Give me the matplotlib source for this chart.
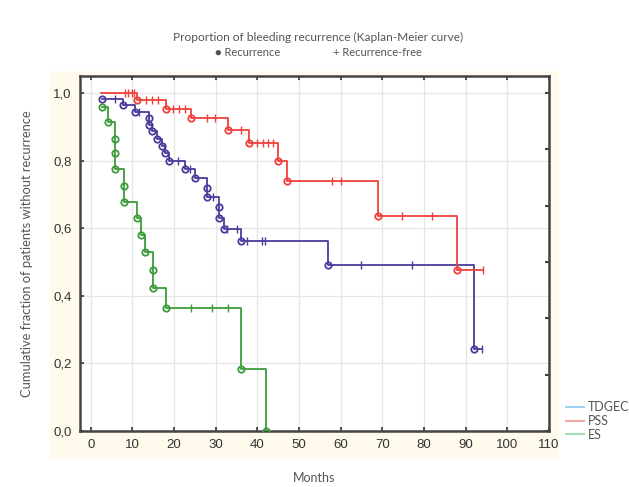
import matplotlib.pyplot as plt
import matplotlib.patches as patches
from matplotlib.lines import Line2D
import numpy as np

# Kaplan-Meier steps: time of event and survival after it
tdgec_times = [2.8, 7.8, 10.7, 13.9, 13.9, 14.8, 15.9, 17.0, 17.9, 18.8,
               22.7, 25.0, 28.0, 28.0, 30.8, 30.8, 32.0, 36.0, 57.0, 92.0]
tdgec_surv = [0.983, 0.963, 0.945, 0.926, 0.906, 0.886, 0.864, 0.842, 0.822, 0.799,
              0.776, 0.748, 0.720, 0.692, 0.662, 0.631, 0.598, 0.561, 0.491, 0.244]
tdgec_cens = [5.8, 11.6, 21.0, 23.8, 29.4, 32.8, 35.0, 37.4, 41.0, 41.8, 64.9, 77.1, 93.9]

pss_times = [2.4, 11.0, 18.0, 24.0, 33.0, 38.0, 45.0, 47.0, 69.0, 88.0]
pss_surv = [1.0, 0.978, 0.953, 0.925, 0.891, 0.852, 0.799, 0.740, 0.636, 0.476]
pss_cens = [8.2, 9.0, 9.8, 10.4, 13.2, 14.8, 16.2, 19.8, 21.2, 22.6, 27.8, 29.8, 36.0,
            39.8, 41.3, 42.6, 43.8, 57.9, 60.0, 74.8, 81.9, 94.2]

es_times = [2.8, 4.2, 5.9, 5.9, 5.9, 8.0, 8.0, 11.0, 12.0, 13.0, 15.0, 15.0, 18.0, 36.0, 42.0]
es_surv = [0.958, 0.913, 0.864, 0.822, 0.775, 0.725, 0.677, 0.631, 0.580, 0.529,
           0.476, 0.424, 0.363, 0.182, 0.0]
es_cens = [24.0, 29.0, 33.0]

groups = ['TDGEC', 'PSS', 'ES']
line_colors = ['#4a3b9c', '#f0403c', '#3c9c3c']
legend_colors = ['#9dd3ee', '#f4a6a6', '#a4dcb8']

label_font = 'Lato'
tick_font = 'Liberation Sans'


def surv_at(times, surv, t):
    i = np.searchsorted(times, t, side='right') - 1
    return surv[max(i, 0)]


fig = plt.figure(figsize=(6.29, 4.87), dpi=100)
fig.patches.append(patches.Rectangle((50 / 629, 1 - 459 / 487), 509 / 629, 388 / 487,
                                     transform=fig.transFigure, facecolor='#fffaeb',
                                     edgecolor='none', zorder=-5))
ax = fig.add_axes([80 / 629, 1 - 431 / 487, 469 / 629, 355 / 487])
ax.set_zorder(2)
ax.set_facecolor('white')

series = [(tdgec_times, tdgec_surv, tdgec_cens, True),
          (pss_times, pss_surv, pss_cens, False),
          (es_times, es_surv, es_cens, True)]

for (times, surv, cens, first_event), col in zip(series, line_colors):
    end = max(max(cens), times[-1])
    xs = list(times) + [end]
    ys = list(surv) + [surv[-1]]
    ax.plot(xs, ys, drawstyle='steps-post', color=col, lw=1.3, zorder=3)
    ev_x = times if first_event else times[1:]
    ev_y = surv if first_event else surv[1:]
    ax.plot(ev_x, ev_y, 'o', ms=4.6, mfc='none', mec=col, mew=1.3, zorder=4)
    cy = [surv_at(times, surv, c) for c in cens]
    ax.plot(cens, cy, '|', ms=6, color=col, mew=1.0, zorder=4)

ax.set_xlim(-2.6, 110)
ax.set_ylim(0, 1.05)
ax.set_xticks(np.arange(0, 111, 10))
ax.set_yticks(np.arange(0, 1.01, 0.2))
ax.set_yticklabels([f'{v:.1f}'.replace('.', ',') for v in np.arange(0, 1.01, 0.2)])
ax.tick_params(direction='in', length=3, width=1.2, labelsize=9.5, colors='#333333',
               top=True, labeltop=False, pad=6, labelfontfamily=tick_font)
ax.grid(color='#e6e6e6', lw=0.9)
ax.set_axisbelow(True)
for s in ax.spines.values():
    s.set_linewidth(1.8)
    s.set_color('#444444')

ax2 = ax.twinx()
ax2.set_ylim(0, 1.05)
ax2.set_yticks(np.linspace(0, 1, 7))
ax2.tick_params(direction='in', length=3, width=1.5, labelright=False, colors='#444444')
for s in ax2.spines.values():
    s.set_visible(False)
ax2.set_zorder(3)

ax.set_xlabel('Months', fontsize=9, color='#555555', family=label_font)
ax.xaxis.set_label_coords(0.5, -0.115)
ax.set_ylabel('Cumulative fraction of patients without recurrence', fontsize=9.3,
              color='#555555', family=label_font)
ax.yaxis.set_label_coords(-0.10, 0.5)

fig.text(318 / 629, 1 - 37 / 487, 'Proportion of bleeding recurrence (Kaplan-Meier curve)',
         ha='center', va='center', fontsize=8.6, color='#555555', family=label_font)
fig.text(248 / 629, 1 - 52 / 487, '\u25cf Recurrence', ha='center', va='center',
         fontsize=8, color='#555555', family=[label_font, 'DejaVu Sans'])
fig.text(377 / 629, 1 - 52 / 487, '+ Recurrence-free', ha='center', va='center',
         fontsize=8, color='#555555', family=label_font)

handles = [Line2D([0], [0], color=c, lw=1.5) for c in legend_colors]
fig.legend(handles, groups, loc='lower left', bbox_to_anchor=(555 / 629, 1 - 452 / 487),
           frameon=False, handlelength=1.4, handletextpad=0.3,
           labelspacing=0.15, labelcolor='#555555',
           prop={'family': label_font, 'size': 9})

fig.savefig('out.png', dpi=100, facecolor='white')
